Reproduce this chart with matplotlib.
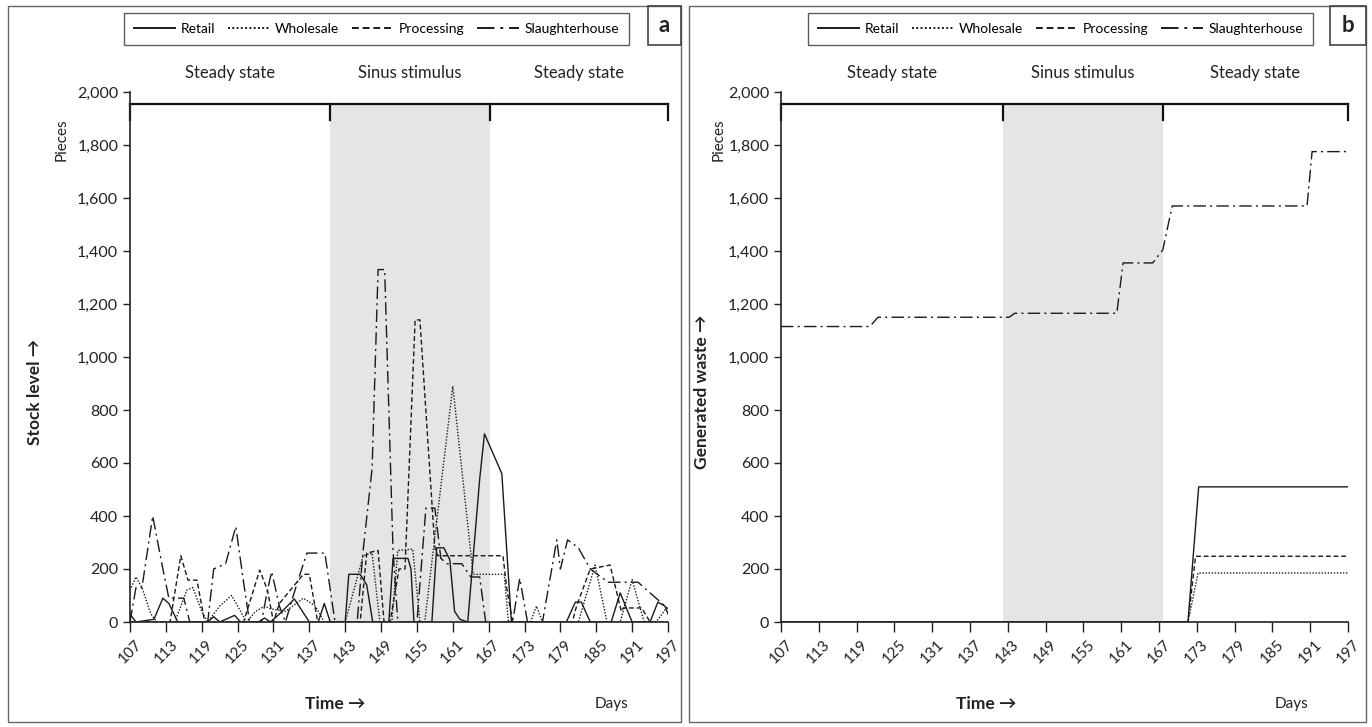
import matplotlib.pyplot as plt
from matplotlib.lines import Line2D
from matplotlib.patches import Rectangle
from matplotlib.ticker import FuncFormatter

plt.rcParams['font.family'] = ['Lato', 'DejaVu Sans']

series = ['Retail', 'Wholesale', 'Processing', 'Slaughterhouse']
styles = ['-', (0, (1, 1.2)), (0, (3.5, 2)), (0, (9, 3, 1.5, 3))]
days = list(range(107, 198, 6))
phases = ['Steady state', 'Sinus stimulus', 'Steady state']

# panel a: stock level (pieces)
retail_day = [107, 108, 111, 112.5, 113.5, 115, 120, 121, 122, 123, 124.5, 125.5, 128.5, 129.5, 130.5,
              132, 134.5, 137, 138.5, 139.5, 140.5, 143, 143.6, 145.5, 146.6, 147.6, 150.3, 151, 153.5,
              154, 154.5, 157.5, 158.3, 159.5, 160.5, 161.3, 162.2, 163.5, 165.5, 166.3, 169.2, 170.8,
              180, 181.5, 182.5, 184, 187.5, 189, 191, 194, 195.3, 196.5, 197]
retail_stock = [30, 0, 10, 90, 70, 0, 0, 20, 0, 10, 25, 0, 0, 15, 0,
                30, 87, 0, 0, 70, 0, 0, 180, 180, 140, 0, 0, 240, 240,
                200, 0, 0, 280, 280, 235, 40, 10, 0, 540, 710, 560, 0,
                0, 75, 75, 0, 0, 110, 0, 0, 75, 60, 30]

wholesale_day = [107, 108, 109, 110.5, 111.5, 114.5, 116.5, 117.5, 119, 120, 122, 124, 125.5, 126.5,
                 128, 129.5, 130.5, 133, 136, 138, 139.5, 143, 146, 147.5, 148.8, 150.8, 151.8, 154.3,
                 155.5, 156.3, 161, 164.4, 169.6, 170.3, 174, 175, 176, 182, 184.8, 186.8, 189, 191,
                 193, 195, 197]
wholesale_stock = [120, 170, 130, 30, 0, 0, 120, 130, 40, 0, 60, 100, 40, 0,
                   40, 60, 50, 40, 90, 60, 0, 0, 250, 260, 0, 0, 270, 275,
                   0, 0, 890, 180, 180, 0, 0, 60, 0, 0, 215, 0, 0, 160,
                   0, 0, 60]

processing_day = [107, 113.7, 115.5, 116.7, 118.2, 119.5, 126, 128.7, 130, 131, 132, 136, 137, 138.4,
                  145.5, 146.6, 148.5, 149.5, 150.5, 152, 153, 154.7, 155.5, 158, 158.5, 169.4, 170,
                  171, 181, 181.7, 184, 187.3, 189.2, 189.5, 192.6, 194, 197]
processing_stock = [0, 0, 250, 158, 158, 0, 0, 196, 120, 0, 70, 180, 180, 0,
                    0, 260, 270, 0, 0, 200, 200, 1140, 1140, 280, 250, 250, 130,
                    0, 0, 60, 200, 215, 40, 53, 53, 0, 0]

slaughter_day = [107, 108, 109, 110.8, 112.5, 113.5, 116, 117, 120, 121, 123, 124.7, 126, 127, 129,
                 130, 130.7, 132, 133, 135, 136.6, 139.6, 141.3, 145, 146, 147.5, 148.5, 149.6, 151,
                 151.8, 155, 156.5, 158, 159, 160, 162.5, 164, 165.5, 166.5, 171, 172.2, 173.5, 176,
                 178.4, 179, 180.2, 182, 184, 187, 192, 194, 197]
slaughter_stock = [0, 130, 130, 400, 200, 90, 90, 0, 0, 200, 220, 360, 150, 0, 0,
                   120, 190, 60, 0, 150, 260, 260, 0, 0, 270, 580, 1330, 1330, 270,
                   0, 0, 430, 430, 240, 220, 220, 170, 170, 0, 0, 165, 0, 0,
                   310, 200, 310, 280, 200, 150, 150, 110, 50]

# panel b: cumulative generated waste (pieces)
retail_waste_day = [107, 171.6, 173.3, 197]
retail_waste = [0, 0, 510, 510]
wholesale_waste_day = [107, 171.6, 173.2, 197]
wholesale_waste = [0, 0, 185, 185]
processing_waste_day = [107, 171.6, 172.8, 197]
processing_waste = [0, 0, 248, 248]
slaughter_waste_day = [107, 121.1, 122.4, 143.2, 144.1, 160.3, 161.3, 166, 167.6, 169.1, 190.5, 191.3, 197]
slaughter_waste = [1115, 1115, 1150, 1150, 1165, 1165, 1355, 1355, 1404, 1570, 1570, 1775, 1775]

stock = [(retail_day, retail_stock), (wholesale_day, wholesale_stock),
         (processing_day, processing_stock), (slaughter_day, slaughter_stock)]
waste = [(retail_waste_day, retail_waste), (wholesale_waste_day, wholesale_waste),
         (processing_waste_day, processing_waste), (slaughter_waste_day, slaughter_waste)]

W, H = 1372, 727
fig = plt.figure(figsize=(W / 100, H / 100), dpi=100)


def fx(px):
    return px / W


def fy(py):
    return 1 - py / H


def panel(x0, x1, data, bounds, ylabel, letter, frame, legend_box, letter_box, pieces_x, label_x):
    ax = fig.add_axes([fx(x0), fy(622), fx(x1) - fx(x0), fy(92) - fy(622)])
    ax.axvspan(bounds[1], bounds[2], ymax=1955 / 2000, color='#e4e5e7', lw=0, zorder=0)
    for (xs, ys), ls in zip(data, styles):
        ax.plot(xs, ys, color='#1a1a1a', lw=1.0, linestyle=ls)
    ax.set_xlim(107, 197)
    ax.set_ylim(0, 2000)
    ax.set_xticks(days)
    ax.set_xticklabels([str(d) for d in days], rotation=45, ha='center', fontsize=11)
    ax.set_yticks(range(0, 2001, 200))
    ax.yaxis.set_major_formatter(FuncFormatter(lambda v, p: f'{int(v):,}'))
    ax.tick_params(axis='y', labelsize=11.5, length=5, width=1, colors='#222')
    ax.tick_params(axis='x', length=7, width=1, colors='#222', pad=4)
    for s in ['top', 'right']:
        ax.spines[s].set_visible(False)
    for s in ['left', 'bottom']:
        ax.spines[s].set_linewidth(1.2)
        ax.spines[s].set_color('#222')

    # phase bracket
    ax.plot([bounds[0], bounds[-1]], [1955, 1955], color='#111', lw=1.6, clip_on=False)
    for b in bounds:
        ax.plot([b, b], [1955, 1895], color='#111', lw=1.6, clip_on=False)
    for a, b, name in zip(bounds[:-1], bounds[1:], phases):
        ax.text((a + b) / 2, 2072, name, ha='center', va='center', fontsize=12, color='#222')

    # frame, labels
    fig.patches.append(Rectangle((fx(frame[0]), fy(722)), fx(frame[1]) - fx(frame[0]), fy(6) - fy(722),
                                 transform=fig.transFigure, fill=False, ec='#666', lw=1))
    fig.patches.append(Rectangle((fx(letter_box[0]), fy(45)), fx(letter_box[1]) - fx(letter_box[0]),
                                 fy(6) - fy(45), transform=fig.transFigure, fill=False, ec='#444', lw=1.2))
    fig.text(fx((letter_box[0] + letter_box[1]) / 2), fy(26), letter, ha='center', va='center',
             fontsize=16, fontweight='bold', color='#222')
    fig.text(fx(pieces_x), fy(140), 'Pieces', rotation=90, ha='center', va='center', fontsize=11, color='#222')
    fig.text(fx(label_x), fy(392), ylabel, rotation=90, ha='center', va='center', fontsize=12.5,
             fontweight='bold', color='#222')
    fig.text(fx(x0 + 205), fy(704), 'Time \u2192', ha='center', va='center', fontsize=12.5,
             fontweight='bold', color='#222')
    fig.text(fx(x1 - 57), fy(704), 'Days', ha='center', va='center', fontsize=11, color='#222')

    handles = [Line2D([], [], color='#1a1a1a', lw=1.4, linestyle=ls) for ls in styles]
    leg = ax.legend(handles, series, ncol=4, loc='center',
                    bbox_to_anchor=(fx((legend_box[0] + legend_box[1]) / 2), fy(29)),
                    bbox_transform=fig.transFigure, fontsize=10, frameon=True, fancybox=False,
                    edgecolor='#333', handlelength=3.0, columnspacing=0.9, handletextpad=0.4,
                    borderpad=0.7)
    leg.get_frame().set_linewidth(1)
    return ax


panel(130, 668, stock, [107, 140.4, 167.2, 197], 'Stock level \u2192', 'a',
      (8, 681), (125, 628), (648, 681), 62, 35)
panel(781, 1348, waste, [107, 142.2, 167.6, 197], 'Generated waste \u2192', 'b',
      (689, 1366), (803, 1318), (1330, 1366), 719, 702)

fig.savefig('out.png', dpi=100)
